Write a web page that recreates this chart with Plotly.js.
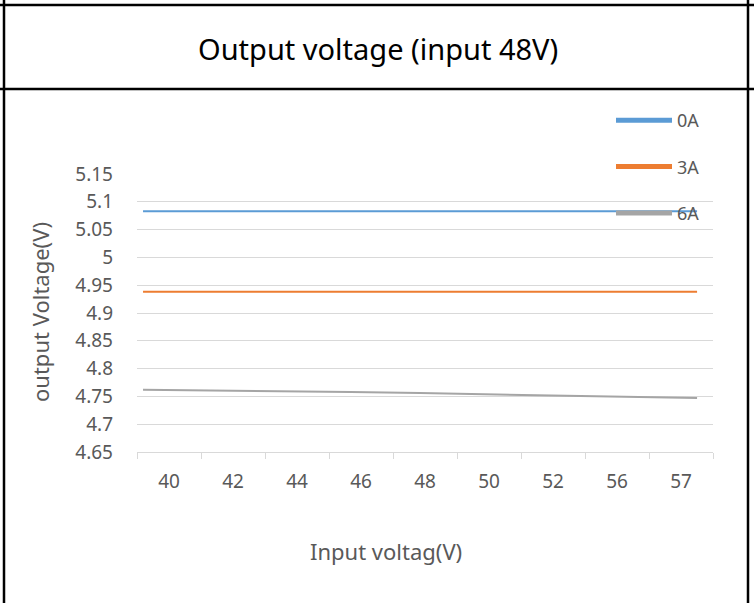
<!DOCTYPE html>
<html><head><meta charset="utf-8">
<script src="https://cdn.plot.ly/plotly-3.0.1.min.js"></script>
<style>html,body{margin:0;padding:0;background:#fff;}#chart{width:754px;height:603px;}</style>
</head><body><div id="chart"></div>
<script>
var inputVoltages = ['40','42','44','46','48','50','52','56','57'];
var out0A = [5.083,5.083,5.083,5.083,5.083,5.083,5.083,5.083,5.083];
var out3A = [4.938,4.938,4.938,4.938,4.938,4.938,4.938,4.938,4.938];
var out6A = [4.762,4.761,4.760,4.758,4.756,4.754,4.752,4.749,4.747];
var seriesNames = ['0A','3A','6A'];
var seriesColors = ['#5B9BD5','#ED7D31','#A5A5A5'];
var yTicks = [4.65,4.7,4.75,4.8,4.85,4.9,4.95,5,5.05,5.1,5.15];
var yTickText = ['4.65','4.7','4.75','4.8','4.85','4.9','4.95','5','5.05','5.1','5.15'];

var W=754,H=603,L=137,R=41,T=174,B=151;
var pw=W-L-R, ph=H-T-B;
function px(x){return (x-L)/pw;}
function py(y){return (H-B-y)/ph;}
var FONT='Noto Sans, sans-serif';
var GRAY='#595959';

var series=[out0A,out3A,out6A];
var traces=[];
series.forEach(function(v,i){
  traces.push({x:inputVoltages,y:v,type:'scatter',mode:'lines',xaxis:'x2',yaxis:'y',
    line:{color:seriesColors[i],width:2},showlegend:false,hoverinfo:'skip'});
});
series.forEach(function(v,i){
  traces.push({x:[null],y:[null],type:'scatter',mode:'lines',xaxis:'x2',yaxis:'y',name:seriesNames[i],
    legendgroup:'g'+i,line:{color:seriesColors[i],width:5},showlegend:true});
});
traces.push({x:inputVoltages,y:inputVoltages.map(function(){return null;}),type:'scatter',mode:'lines',xaxis:'x',yaxis:'y',showlegend:false,hoverinfo:'skip'});

function hline(y){return {type:'line',xref:'paper',yref:'paper',x0:px(0),x1:px(754),y0:py(y),y1:py(y),line:{color:'#000',width:2.5}};}
function vline(x){return {type:'line',xref:'paper',yref:'paper',x0:px(x),x1:px(x),y0:py(0),y1:py(603),line:{color:'#000',width:2.5}};}

var layout={
  width:W,height:H,margin:{l:L,r:R,t:T,b:B,pad:0},
  paper_bgcolor:'#fff',plot_bgcolor:'#fff',
  font:{family:FONT,color:GRAY},
  showlegend:true,
  legend:{x:px(611),y:py(102),xanchor:'left',yanchor:'top',traceorder:'grouped',tracegroupgap:20,
    font:{family:FONT,size:18,color:GRAY},bgcolor:'rgba(0,0,0,0)',itemwidth:56},
  xaxis:{type:'category',categoryorder:'array',categoryarray:inputVoltages,range:[-0.5,8.5],
    tickson:'boundaries',ticks:'outside',ticklen:6,tickcolor:'#D9D9D9',tickwidth:1,
    showline:true,linecolor:'#D9D9D9',linewidth:1,showgrid:false,zeroline:false,
    tickfont:{family:FONT,size:19,color:GRAY},ticklabelstandoff:12,fixedrange:true},
  xaxis2:{type:'category',overlaying:'x',categoryorder:'array',categoryarray:inputVoltages,
    range:[-0.087,8.23],visible:false,fixedrange:true},
  yaxis:{range:[4.65,5.15],tickvals:yTicks,ticktext:yTickText,showgrid:true,gridcolor:'#D9D9D9',gridwidth:1,
    zeroline:false,showline:false,ticks:'',tickfont:{family:FONT,size:19,color:GRAY},ticklabelstandoff:23,fixedrange:true},
  shapes:[hline(5),hline(89),vline(4),vline(748)],
  annotations:[
    {text:'Output voltage (input 48V)',xref:'paper',yref:'paper',x:px(378),y:py(49),xanchor:'center',yanchor:'middle',showarrow:false,font:{family:FONT,size:29,color:'#000'}},
    {text:'output Voltage(V)',xref:'paper',yref:'paper',x:px(40),y:py(312),xanchor:'center',yanchor:'middle',textangle:-90,showarrow:false,font:{family:FONT,size:22,color:GRAY}},
    {text:'Input voltag(V)',xref:'paper',yref:'paper',x:px(386),y:py(551),xanchor:'center',yanchor:'middle',showarrow:false,font:{family:FONT,size:22,color:GRAY}}
  ]
};
Plotly.newPlot('chart',traces,layout,{displayModeBar:false,staticPlot:true});
</script></body></html>
